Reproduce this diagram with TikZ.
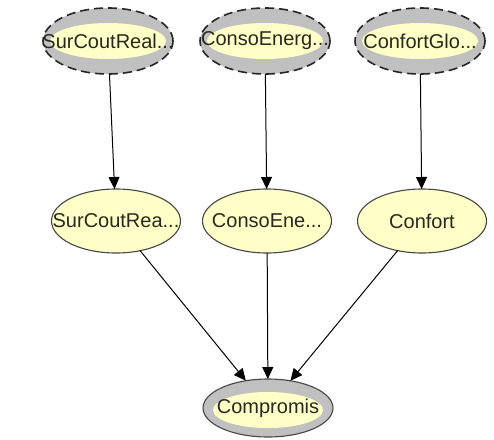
\documentclass[tikz,border=0pt]{standalone}
\usepackage{fontspec}
\setmainfont{Liberation Sans}
\usetikzlibrary{shapes.geometric,arrows.meta}
\definecolor{ylw}{RGB}{255,255,200}
\definecolor{band}{RGB}{192,192,192}
\definecolor{edgegray}{RGB}{70,70,70}
\definecolor{txt}{RGB}{40,40,30}
\tikzset{
  lbl/.style={font=\fontsize{20}{23}\selectfont, text=txt, inner sep=0pt},
  shp/.style={ellipse, inner sep=0pt, outer sep=0pt},
  topnode/.style={shp, minimum width=130pt, minimum height=66pt,
    fill=band, draw=black!85, line width=1.6pt, dash pattern=on 9pt off 5pt,
    path picture={\fill[ylw] (path picture bounding box.center) ellipse [x radius=58pt, y radius=18pt];}},
  midnode/.style={shp, minimum width=129pt, minimum height=64pt,
    fill=ylw, draw=edgegray, line width=1.1pt},
  botnode/.style={shp, minimum width=130pt, minimum height=58pt,
    fill=band, draw=edgegray, line width=1.1pt,
    path picture={\fill[ylw] ([yshift=-2pt]path picture bounding box.center) ellipse [x radius=55pt, y radius=18pt];}},
  arr/.style={-{Triangle[length=12pt,width=11pt]}, line width=1pt, black}
}
\begin{document}
\begin{tikzpicture}[x=1pt,y=-1pt]
\useasboundingbox (0,0) rectangle (494,439);
\node[topnode, label={[lbl]center:SurCoutReal...}] (t1) at (108,41) {};
\node[topnode, label={[lbl]center:ConsoEnerg...}] (t2) at (265,41) {};
\node[topnode, label={[lbl]center:ConfortGlo...}] (t3) at (420,41) {};
\node[midnode, label={[lbl]center:SurCoutRea...}] (m1) at (116,221) {};
\node[midnode, label={[lbl]center:ConsoEne...}] (m2) at (267,221) {};
\node[midnode, label={[lbl]center:Confort}] (m3) at (422,221) {};
\node[botnode, label={[lbl]center:Compromis}] (b) at (268,408) {};
\draw[arr] (t1) -- (m1);
\draw[arr] (t2) -- (m2);
\draw[arr] (t3) -- (m3);
\draw[arr] (m1) -- (b);
\draw[arr] (m2) -- (b);
\draw[arr] (m3) -- (b);
\end{tikzpicture}
\end{document}
